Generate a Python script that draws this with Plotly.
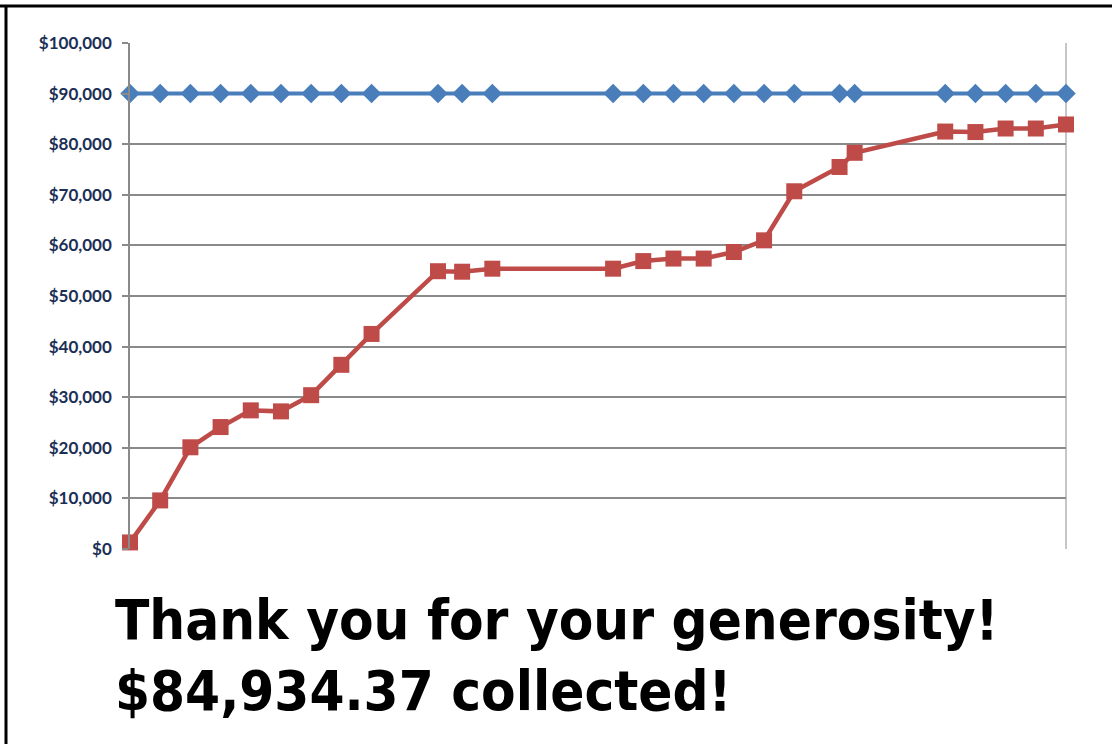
import plotly.graph_objects as go

# Data (x = day offset from first entry)
days = [0, 1, 2, 3, 4, 5, 6, 7, 8, 10.2, 11, 12, 16, 17, 18, 19, 20, 21, 22, 23.5, 24, 27, 28, 29, 30, 31]
goal = [90000] * 26
collected = [1300, 9600, 20100, 24100, 27400, 27200, 30400, 36400, 42500,
             54900, 54800, 55400, 55400, 56900, 57400, 57400, 58700, 61000,
             70700, 75500, 78300, 82500, 82400, 83100, 83100, 83900]
y_ticks = list(range(0, 100001, 10000))
title_lines = ["Thank you for your generosity!", "$84,934.37 collected!"]

W, H = 1112, 744
L, R, T, B = 130, 46, 43, 195
pw, ph = W - L - R, H - T - B

def px(xp):
    return (xp - L) / pw

def py(yp):
    return (H - B - yp) / ph

title_font = dict(family="DejaVu Sans Condensed, DejaVu Sans", size=56, color="black", weight="bold")

fig = go.Figure()
fig.add_trace(go.Scatter(
    x=days, y=goal, mode="lines+markers",
    line=dict(color="#4A7EBB", width=4),
    marker=dict(symbol="diamond", size=15, color="#4A7EBB"),
    cliponaxis=False, showlegend=False))
fig.add_trace(go.Scatter(
    x=days, y=collected, mode="lines+markers",
    line=dict(color="#BE4B48", width=4.5),
    marker=dict(symbol="square", size=16, color="#BE4B48"),
    cliponaxis=False, showlegend=False))

fig.update_layout(
    width=W, height=H,
    margin=dict(l=L, r=R, t=T, b=B),
    paper_bgcolor="white", plot_bgcolor="white",
    xaxis=dict(range=[days[0], days[-1]], showgrid=False, zeroline=False,
               showticklabels=False, showline=False, ticks=""),
    yaxis=dict(range=[0, 100000], tickvals=y_ticks, tickformat="$,.0f",
               showgrid=True, gridcolor="#8A8A8A", gridwidth=1.5,
               zeroline=False, showline=True, linecolor="#8A8A8A", linewidth=1.5,
               ticks="outside", ticklen=6, tickcolor="#8A8A8A", tickwidth=1.5,
               ticklabelstandoff=7,
               tickfont=dict(family="Lato", size=17, color="#1B2F55", weight="bold")),
    shapes=[
        dict(type="line", xref="paper", yref="paper", x0=1, x1=1, y0=0, y1=1,
             line=dict(color="#B3B3B3", width=1.5), layer="below"),
        dict(type="line", xref="paper", yref="paper", x0=px(0), x1=px(W), y0=py(6), y1=py(6),
             line=dict(color="black", width=3)),
        dict(type="line", xref="paper", yref="paper", x0=px(6), x1=px(6), y0=py(6), y1=py(H),
             line=dict(color="black", width=3)),
    ],
    annotations=[
        dict(text=title_lines[0], xref="paper", yref="paper", x=px(113), y=py(619),
             xanchor="left", yanchor="middle", showarrow=False, font=title_font),
        dict(text=title_lines[1], xref="paper", yref="paper", x=px(113), y=py(690),
             xanchor="left", yanchor="middle", showarrow=False, font=title_font),
    ],
)
fig.write_html("out.html", config={"displayModeBar": False},
               post_script="document.body.style.margin='0';")
